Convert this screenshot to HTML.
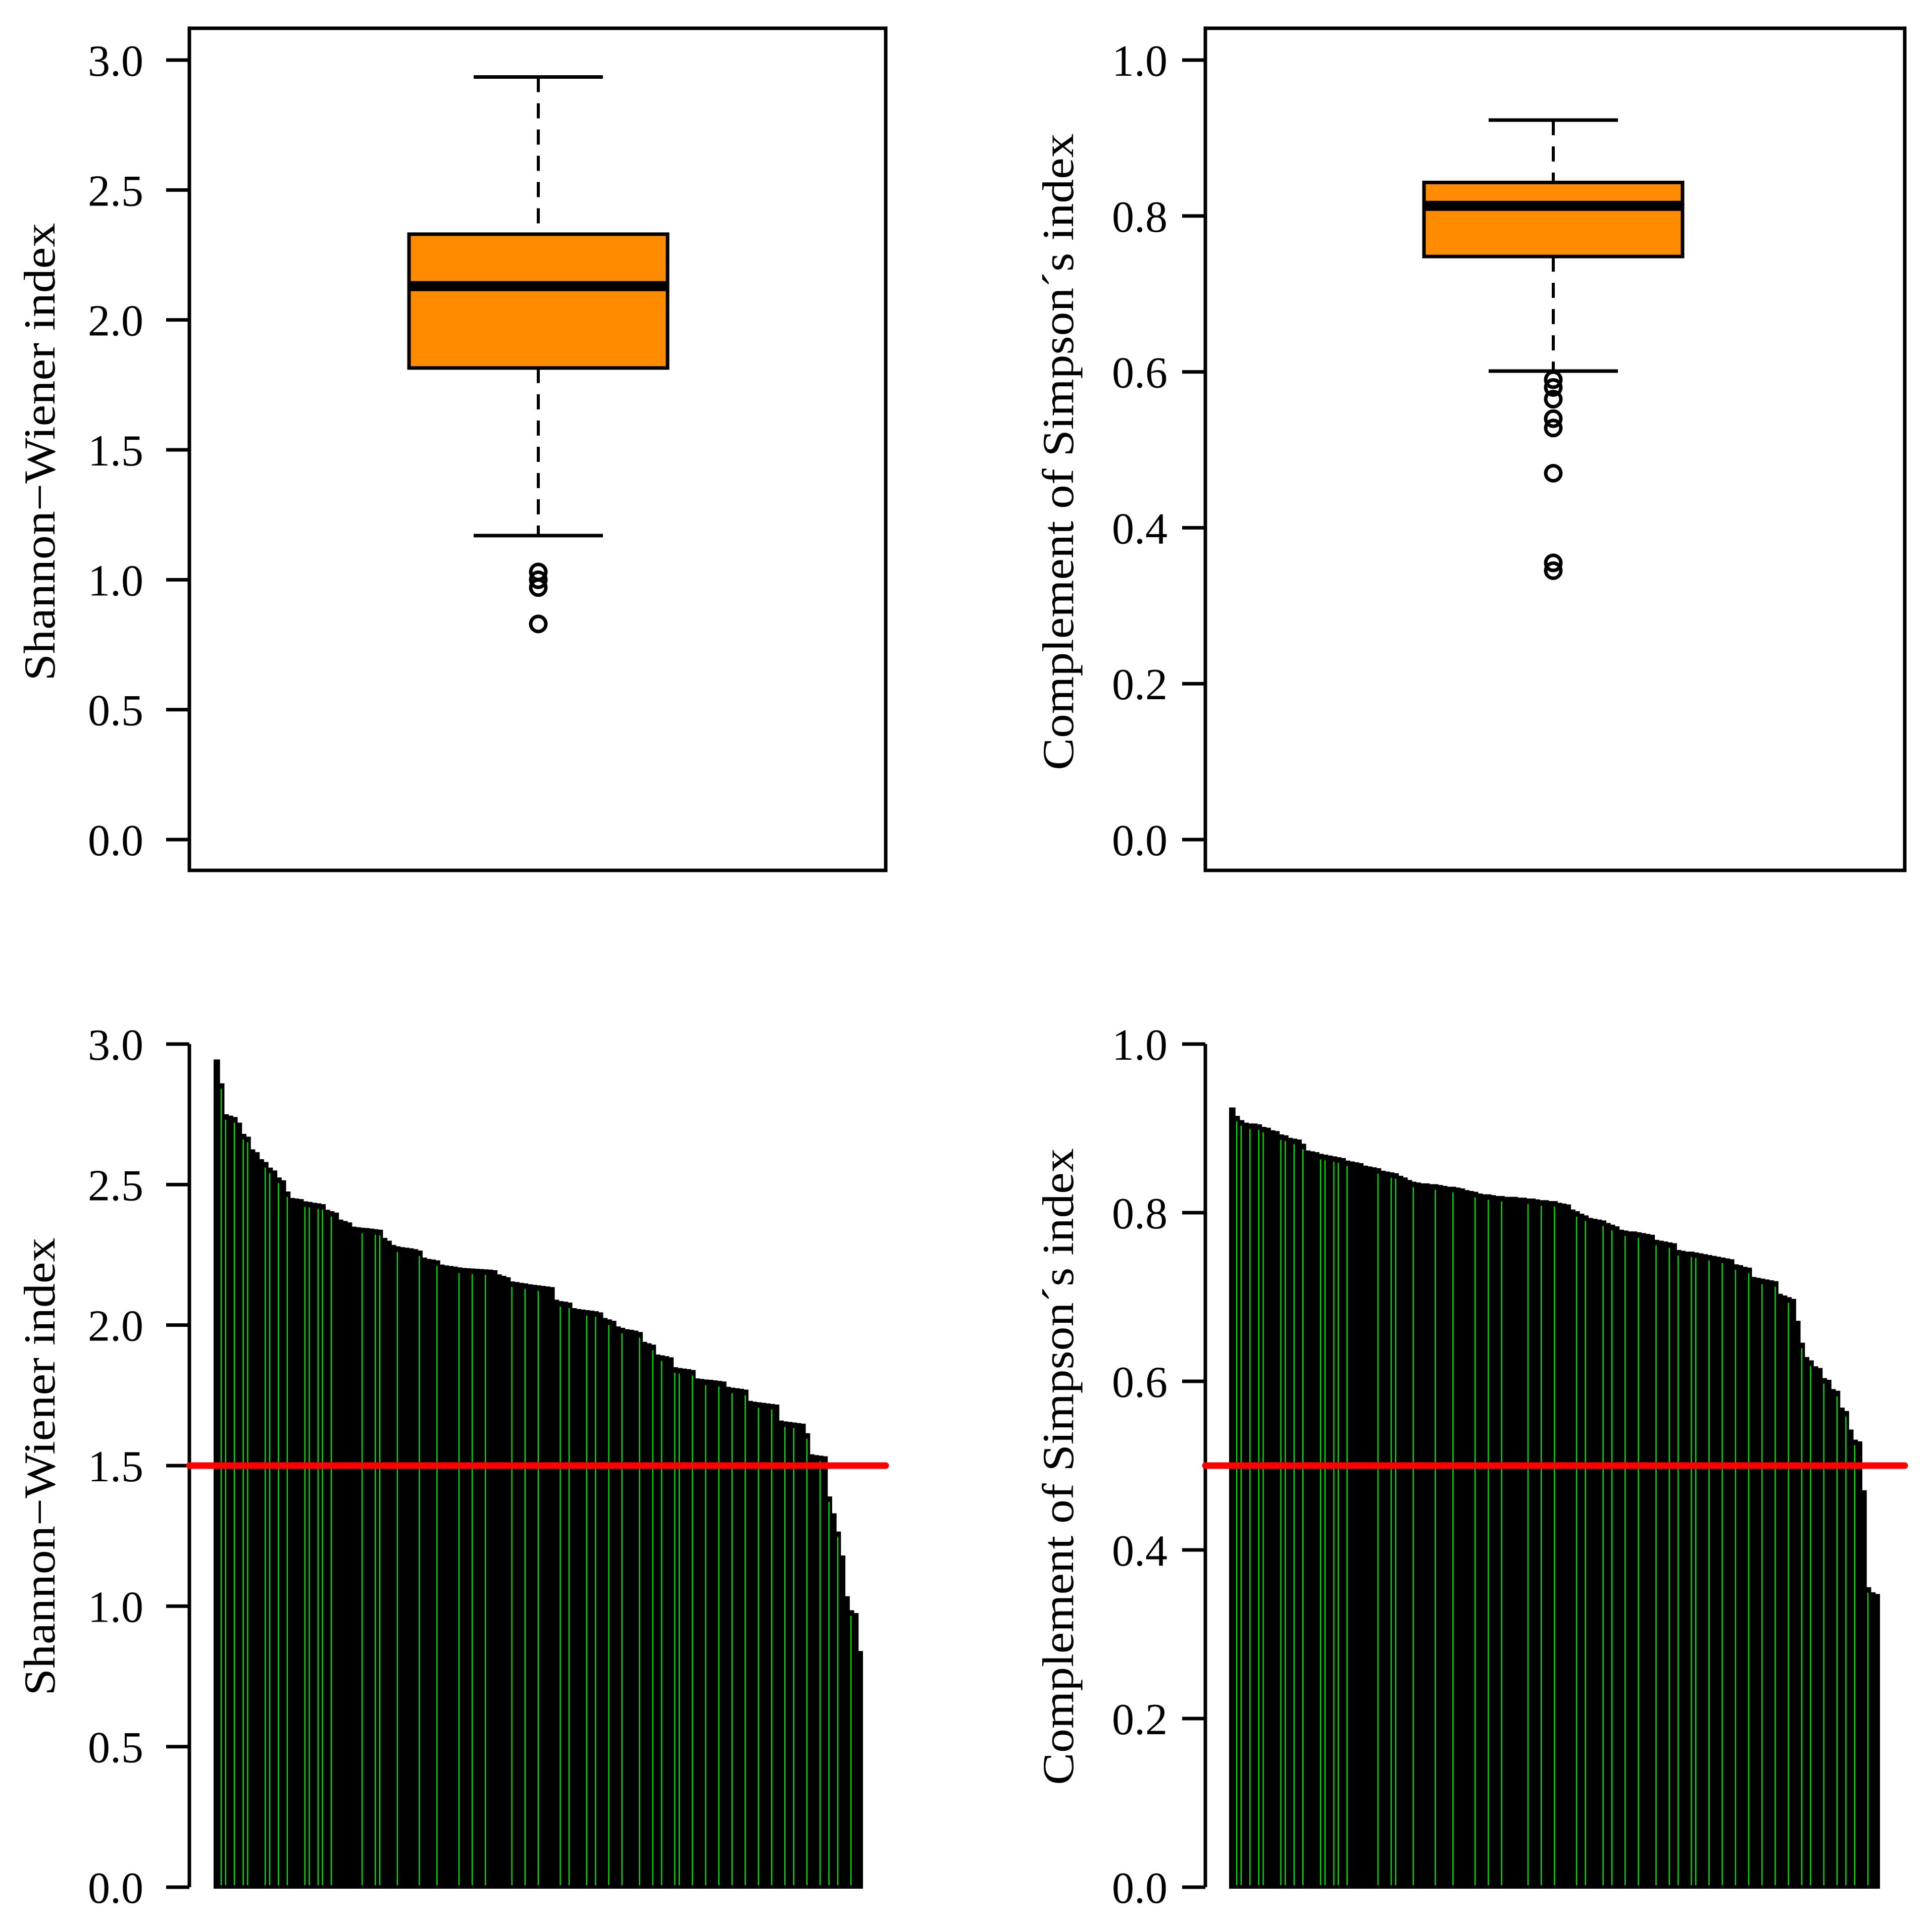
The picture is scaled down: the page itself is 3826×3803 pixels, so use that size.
<!DOCTYPE html>
<html><head><meta charset="utf-8"><style>
html,body{margin:0;padding:0;background:#fff}
svg{display:block}
text{font-family:"Liberation Serif","Times New Roman",serif;fill:#000}
</style></head><body>
<svg id="chart" width="3826" height="3803" viewBox="0 0 3826 3803" xmlns="http://www.w3.org/2000/svg"></svg>
<script>
const shannonBox = {q1:1.815, med:2.13, q3:2.33, lo:1.17, hi:2.935};
const shannonOut = [1.03, 1.0, 0.97, 0.83];
const simpsonBox = {q1:0.748, med:0.813, q3:0.843, lo:0.601, hi:0.923};
const simpsonOut = [0.59, 0.58, 0.565, 0.54, 0.528, 0.47, 0.355, 0.345];
const shannonTicks = ["0.0","0.5","1.0","1.5","2.0","2.5","3.0"];
const simpsonTicks = ["0.0","0.2","0.4","0.6","0.8","1.0"];
const shannonThreshold = 1.5;
const simpsonThreshold = 0.5;
const shannonSorted = [2.94,2.855,2.745,2.74,2.735,2.715,2.675,2.665,2.62,2.61,2.585,2.575,2.555,2.545,2.52,2.51,2.47,2.447,2.445,2.443,2.435,2.433,2.43,2.428,2.425,2.405,2.4,2.395,2.37,2.365,2.36,2.345,2.343,2.341,2.34,2.338,2.336,2.334,2.305,2.295,2.28,2.275,2.272,2.27,2.268,2.265,2.26,2.235,2.23,2.228,2.225,2.21,2.207,2.205,2.203,2.2,2.198,2.197,2.196,2.195,2.194,2.193,2.192,2.19,2.175,2.17,2.165,2.15,2.148,2.145,2.143,2.14,2.138,2.136,2.134,2.132,2.13,2.085,2.08,2.078,2.075,2.055,2.052,2.05,2.048,2.046,2.044,2.04,2.02,2.015,2.01,1.99,1.985,1.98,1.978,1.975,1.97,1.935,1.93,1.925,1.89,1.887,1.884,1.88,1.845,1.842,1.84,1.838,1.835,1.805,1.803,1.801,1.8,1.798,1.796,1.794,1.775,1.772,1.77,1.768,1.765,1.725,1.722,1.72,1.718,1.716,1.714,1.712,1.655,1.652,1.65,1.648,1.646,1.644,1.61,1.535,1.532,1.53,1.528,1.385,1.325,1.26,1.175,1.03,0.98,0.97,0.835];
const simpsonSorted = [0.923,0.913,0.908,0.905,0.904,0.904,0.903,0.9,0.899,0.896,0.895,0.891,0.89,0.887,0.886,0.885,0.88,0.872,0.871,0.87,0.868,0.867,0.866,0.865,0.864,0.863,0.86,0.859,0.858,0.857,0.854,0.853,0.852,0.851,0.848,0.847,0.846,0.845,0.842,0.84,0.837,0.835,0.834,0.833,0.833,0.832,0.832,0.831,0.83,0.829,0.829,0.828,0.827,0.825,0.824,0.823,0.821,0.82,0.82,0.819,0.818,0.818,0.817,0.817,0.817,0.816,0.816,0.815,0.815,0.814,0.813,0.813,0.812,0.812,0.81,0.809,0.808,0.802,0.8,0.797,0.795,0.792,0.791,0.79,0.789,0.786,0.784,0.782,0.778,0.777,0.776,0.776,0.775,0.774,0.773,0.772,0.766,0.765,0.764,0.763,0.762,0.754,0.753,0.752,0.752,0.751,0.75,0.749,0.748,0.747,0.746,0.745,0.744,0.743,0.737,0.736,0.734,0.733,0.722,0.721,0.72,0.719,0.718,0.717,0.702,0.7,0.698,0.696,0.67,0.644,0.627,0.623,0.616,0.614,0.602,0.6,0.589,0.587,0.567,0.563,0.541,0.529,0.527,0.469,0.354,0.348,0.346];
const greenMarks = [1,2,4,6,7,11,12,14,16,20,21,23,24,26,33,36,37,41,46,50,55,58,61,67,70,73,78,80,84,86,89,92,96,99,101,104,105,108,111,114,117,120,123,126,129,131,134,137,139,141,144];

const NS = "http://www.w3.org/2000/svg";
const svg = document.getElementById('chart');
function mk(tag, attrs, parent){
  const e = document.createElementNS(NS, tag);
  for (const k in attrs) e.setAttribute(k, attrs[k]);
  (parent||svg).appendChild(e);
  return e;
}
function yScale(y0, y1, vmax){ return v => y0 + (1 - v / vmax) * (y1 - y0); }
const LW = 7;

function yAxis(g, x, ys, ticks, vmax, labelRight){
  const ax = mk('line', {x1:x, x2:x, y1:ys(vmax), y2:ys(0), stroke:'#000','stroke-width':LW}, g);
  
  
  ticks.forEach(t => {
    const v = parseFloat(t), y = ys(v);
    const tk = mk('line', {x1:x-46, x2:x, y1:y, y2:y, stroke:'#000','stroke-width':LW}, g);
    
    
    const tl = mk('text', {x:labelRight, y:y+31, 'text-anchor':'end','font-size':88}, g);
    tl.textContent = t;
    
    
  });
}
function yTitle(g, cx, cy, txt, len){
  const t = mk('text', {x:0, y:0, 'text-anchor':'middle','font-size':88, transform:`translate(${cx},${cy}) rotate(-90)`, textLength:len, lengthAdjust:'spacingAndGlyphs'}, g);
  t.textContent = txt;
  
  
}

function boxPanel(name, left, right, stats, outs, ticks, vmax, tickRight, titleX, title, titleLen, cx, bw, cw){
  const g = mk('g', {});
  
  
  const ys = yScale(119, 1663, vmax);
  const fr = mk('rect', {x:left, y:56, width:right-left, height:1668, fill:'none', stroke:'#000','stroke-width':LW}, g);
  
  
  yAxis(g, left, ys, ticks, vmax, tickRight);
  yTitle(g, titleX, 895, title, titleLen);
  const w1 = mk('line', {x1:cx,x2:cx,y1:ys(stats.hi),y2:ys(stats.q3),stroke:'#000','stroke-width':6,'stroke-dasharray':'30 22'}, g);
  
  
  const w2 = mk('line', {x1:cx,x2:cx,y1:ys(stats.q1),y2:ys(stats.lo),stroke:'#000','stroke-width':6,'stroke-dasharray':'30 22'}, g);
  
  
  [stats.hi, stats.lo].forEach(v => {
    const c = mk('line', {x1:cx-cw,x2:cx+cw,y1:ys(v),y2:ys(v),stroke:'#000','stroke-width':LW}, g);
    
    
  });
  const b = mk('rect', {x:cx-bw, y:ys(stats.q3), width:2*bw, height:ys(stats.q1)-ys(stats.q3), fill:'#ff8c00', stroke:'#000','stroke-width':LW}, g);
  
  
  const m = mk('line', {x1:cx-bw,x2:cx+bw,y1:ys(stats.med),y2:ys(stats.med),stroke:'#000','stroke-width':20}, g);
  
  
  outs.forEach(v => {
    const o = mk('circle', {cx:cx, cy:ys(v), r:15, fill:'none', stroke:'#000','stroke-width':7}, g);
    
    
  });
}

function barPanel(name, axisX, plotRight, x0, x1, vals, ticks, vmax, tickRight, titleX, title, titleLen, thr){
  const g = mk('g', {});
  
  
  const ys = yScale(2068, 3738, vmax);
  const step = (x1 - x0) / vals.length;
  vals.forEach((v, i) => {
    const r = mk('rect', {x:x0 + i*step - 2, y:ys(v)-3, width:step+4, height:ys(0)-ys(v)+6, fill:'#000'}, g);
    
    
  });
  greenMarks.forEach(i => {
    if (i >= vals.length) return;
    const xm = x0 + i*step + step/2;
    const gl = mk('line', {x1:xm, x2:xm, y1:ys(vals[i])+8, y2:ys(0)-4, stroke:'#00dd00','stroke-width':2.5}, g);
    
    
  });
  yAxis(g, axisX, ys, ticks, vmax, tickRight);
  yTitle(g, titleX, 2905, title, titleLen);
  const rl = mk('line', {x1:axisX, x2:plotRight, y1:ys(thr), y2:ys(thr), stroke:'#ff0000','stroke-width':13,'stroke-linecap':'round'}, g);
  
  
}

boxPanel('shannon-boxplot', 375, 1754, shannonBox, shannonOut, shannonTicks, 3.0, 284, 108, 'Shannon\u2212Wiener index', 907, 1066, 256, 128);
boxPanel('simpson-boxplot', 2387, 3772, simpsonBox, simpsonOut, simpsonTicks, 1.0, 2312, 2125, 'Complement of Simpson\u00b4s index', 1261, 3076, 256, 128);
barPanel('shannon-barplot', 375, 1754, 425, 1707, shannonSorted, shannonTicks, 3.0, 284, 108, 'Shannon\u2212Wiener index', 907, shannonThreshold);
barPanel('simpson-barplot', 2387, 3772, 2436, 3721, simpsonSorted, simpsonTicks, 1.0, 2312, 2125, 'Complement of Simpson\u00b4s index', 1261, simpsonThreshold);
</script>
</body></html>
